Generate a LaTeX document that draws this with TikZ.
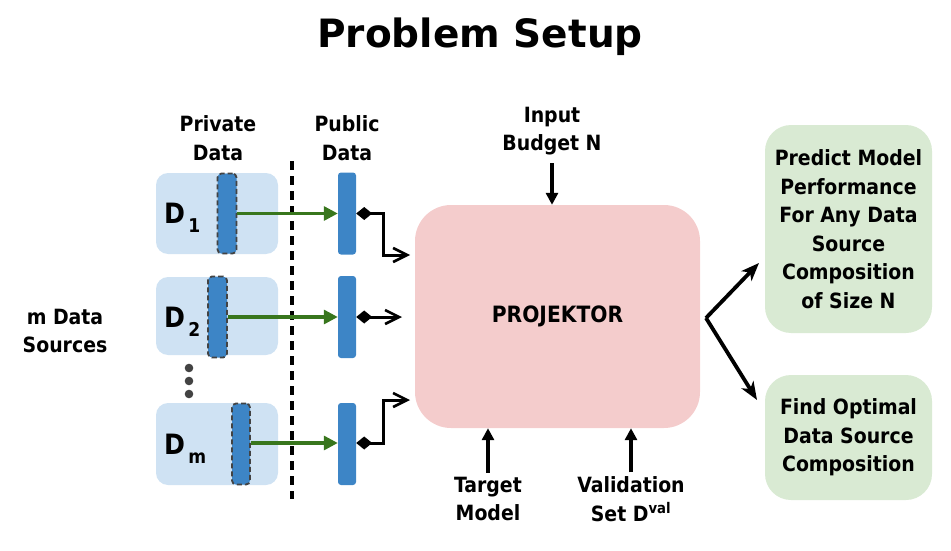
\documentclass[tikz,border=0pt]{standalone}
\usepackage{fontspec}
\setmainfont{DejaVu Sans Condensed}
\newfontfamily\titlefont{DejaVu Sans}
\usetikzlibrary{arrows.meta}
\definecolor{lblue}{HTML}{CFE2F3}
\definecolor{dblue}{HTML}{3D85C6}
\definecolor{bgray}{HTML}{434343}
\definecolor{lpink}{HTML}{F4CCCC}
\definecolor{lgreen}{HTML}{D9EAD3}
\definecolor{dgreen}{HTML}{38761D}
\tikzset{
  srcbox/.style={fill=lblue, rounded corners=12pt, minimum width=122pt, inner sep=0pt},
  privbar/.style={fill=dblue, draw=bgray, dashed, dash pattern=on 5pt off 3pt, line width=1.8pt, rounded corners=4pt, minimum width=19pt, inner sep=0pt},
  pubbar/.style={fill=dblue, rounded corners=3pt, minimum width=18pt, minimum height=82pt, inner sep=0pt},
  txt/.style={font=\bfseries\fontsize{21}{28.5}\selectfont, align=center, inner sep=0pt},
  garrow/.style={draw=dgreen, line width=3.2pt, -{Triangle[length=14pt,width=14pt]}},
  karrow/.style={draw=black, line width=3pt, {Diamond[length=16pt,width=13pt]}-{Straight Barb[length=14pt,width=14pt,line width=2.6pt]}},
  uarrow/.style={draw=black, line width=3.2pt, -{Triangle[length=12pt,width=12pt]}},
  rarrow/.style={draw=black, line width=3.8pt, -{Stealth[length=18pt,width=14pt,inset=5pt]}},
  dlabel/.style={font=\bfseries\fontsize{28}{28}\selectfont, inner sep=0pt, anchor=base west},
}
\begin{document}
\begin{tikzpicture}[x=1pt,y=-1pt]
\useasboundingbox (0,0) rectangle (951,551);
% title
\node[font=\titlefont\bfseries\fontsize{39}{39}\selectfont, inner sep=0pt] (title) at (480,37) {Problem Setup};
% headers
\node[txt] (privlab) at (218,138) {Private\\Data};
\node[txt] (publab) at (347,138) {Public\\Data};
\node[txt] (msrc) at (65,331) {m Data\\Sources};
% dashed separator
\coordinate (sepT) at (292,161);
\coordinate (sepB) at (292,499);
\draw[line width=3.2pt, dash pattern=on 9pt off 6pt] (sepT) -- (sepB);
% source boxes
\node[srcbox, minimum height=81pt] (s1) at (217,213.5) {};
\node[srcbox, minimum height=78pt] (s2) at (217,316) {};
\node[srcbox, minimum height=82pt] (sm) at (217,444) {};
\node[dlabel] (d1) at (164,223) {D\raisebox{-9pt}{\fontsize{19}{19}\selectfont\,1}};
\node[dlabel] (d2) at (164,327) {D\raisebox{-9pt}{\fontsize{19}{19}\selectfont\,2}};
\node[dlabel] (dm) at (164,454) {D\raisebox{-9pt}{\fontsize{19}{19}\selectfont\,m}};
% dots
\fill[bgray] (189,368) circle (4.3pt) coordinate (dot1);
\fill[bgray] (189,381) circle (4.3pt) coordinate (dot2);
\fill[bgray] (189,394) circle (4.3pt) coordinate (dot3);
% private bars
\node[privbar, minimum height=80pt] (p1) at (227,213.5) {};
\node[privbar, minimum height=81pt] (p2) at (217.5,317) {};
\node[privbar, minimum height=81pt, minimum width=18pt] (pm) at (241,444) {};
% public bars
\node[pubbar] (q1) at (347,213.5) {};
\node[pubbar] (q2) at (347,317) {};
\node[pubbar] (qm) at (347,444) {};
% green arrows
\draw[garrow] (p1.east) -- (q1.west);
\draw[garrow] (p2.east) -- (q2.west);
\draw[garrow] (pm.east |- 0,443) -- (qm.west |- 0,443);
% projektor
\node[fill=lpink, rounded corners=36pt, minimum width=285pt, minimum height=223pt, inner sep=0pt, font=\bfseries\fontsize{22.5}{22.5}\selectfont] (proj) at (557.5,316.5) {PROJEKTOR};
% black connectors
\coordinate (e1) at (410,255);
\coordinate (e2) at (402,317);
\coordinate (em) at (410,400);
\draw[karrow] (q1.east) -- ++(27,0) |- (e1);
\draw[karrow] (q2.east) -- (e2);
\draw[karrow] (qm.east |- 0,443) -- ++(27,0) |- (em);
% input budget
\node[txt] (budget) at (552,131) {Input\\Budget N};
\draw[uarrow] (budget.south) ++(0,8) coordinate (bs) -- (bs |- proj.north) ;
% target model
\node[txt] (target) at (488,499) {Target\\Model};
\draw[uarrow] (target.north) ++(0,-4) coordinate (ts) -- (ts |- proj.south);
% validation
\node[txt] (valid) at (631,499) {Validation\\Set D\textsuperscript{val}};
\draw[uarrow] (valid.north -| 631,0) ++(0,-4) coordinate (vs) -- (vs |- proj.south);
% outputs
\node[fill=lgreen, rounded corners=26pt, minimum width=167pt, minimum height=208pt, inner sep=0pt, txt] (pred) at (848.5,229) {Predict Model\\Performance\\For Any Data\\Source\\Composition\\of Size N};
\node[fill=lgreen, rounded corners=26pt, minimum width=167pt, minimum height=125pt, inner sep=0pt, txt] (opt) at (848.5,437.5) {Find Optimal\\Data Source\\Composition};
\coordinate (fork) at (706,318);
\coordinate (t1) at (759,263);
\coordinate (t2) at (757,400);
\draw[rarrow] (fork) -- (t1);
\draw[rarrow] (fork) -- (t2);
\end{tikzpicture}
\end{document}
